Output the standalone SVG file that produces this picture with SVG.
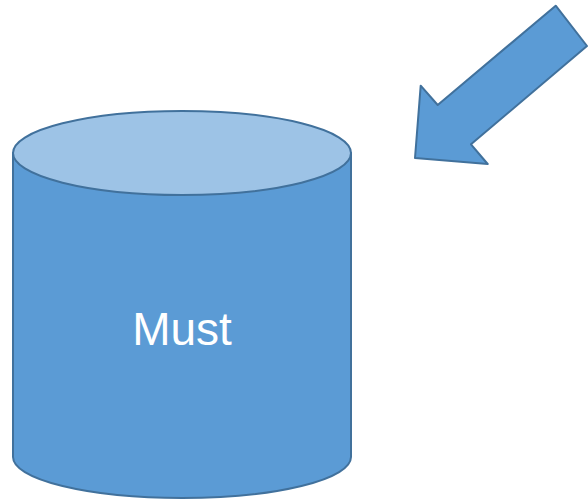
<svg xmlns="http://www.w3.org/2000/svg" width="588" height="499" viewBox="0 0 588 499">
<style>
.shape{fill:#5B9BD5;stroke:#41719C;stroke-width:2;stroke-linejoin:round}
.top{fill:#9DC3E6;stroke:#41719C;stroke-width:2}
.lbl{font-family:"Liberation Sans",Arial,sans-serif;font-size:46px;fill:#FFFFFF;text-anchor:middle}
</style>
<rect width="588" height="499" fill="#FFFFFF"/>
<g id="cylinder">
<path class="shape" d="M13,153 L13,457 A169,41 0 0 0 351,457 L351,153 Z"/>
<ellipse class="top" cx="182" cy="153" rx="169" ry="42"/>
<text class="lbl" x="182" y="345">Must</text>
</g>
<g id="arrow">
<path class="shape" d="M415,158 L420.7,85.7 L437.7,105 L555.7,5.7 L587,46 L471,144.3 L487.7,164 Z"/>
</g>
</svg>
